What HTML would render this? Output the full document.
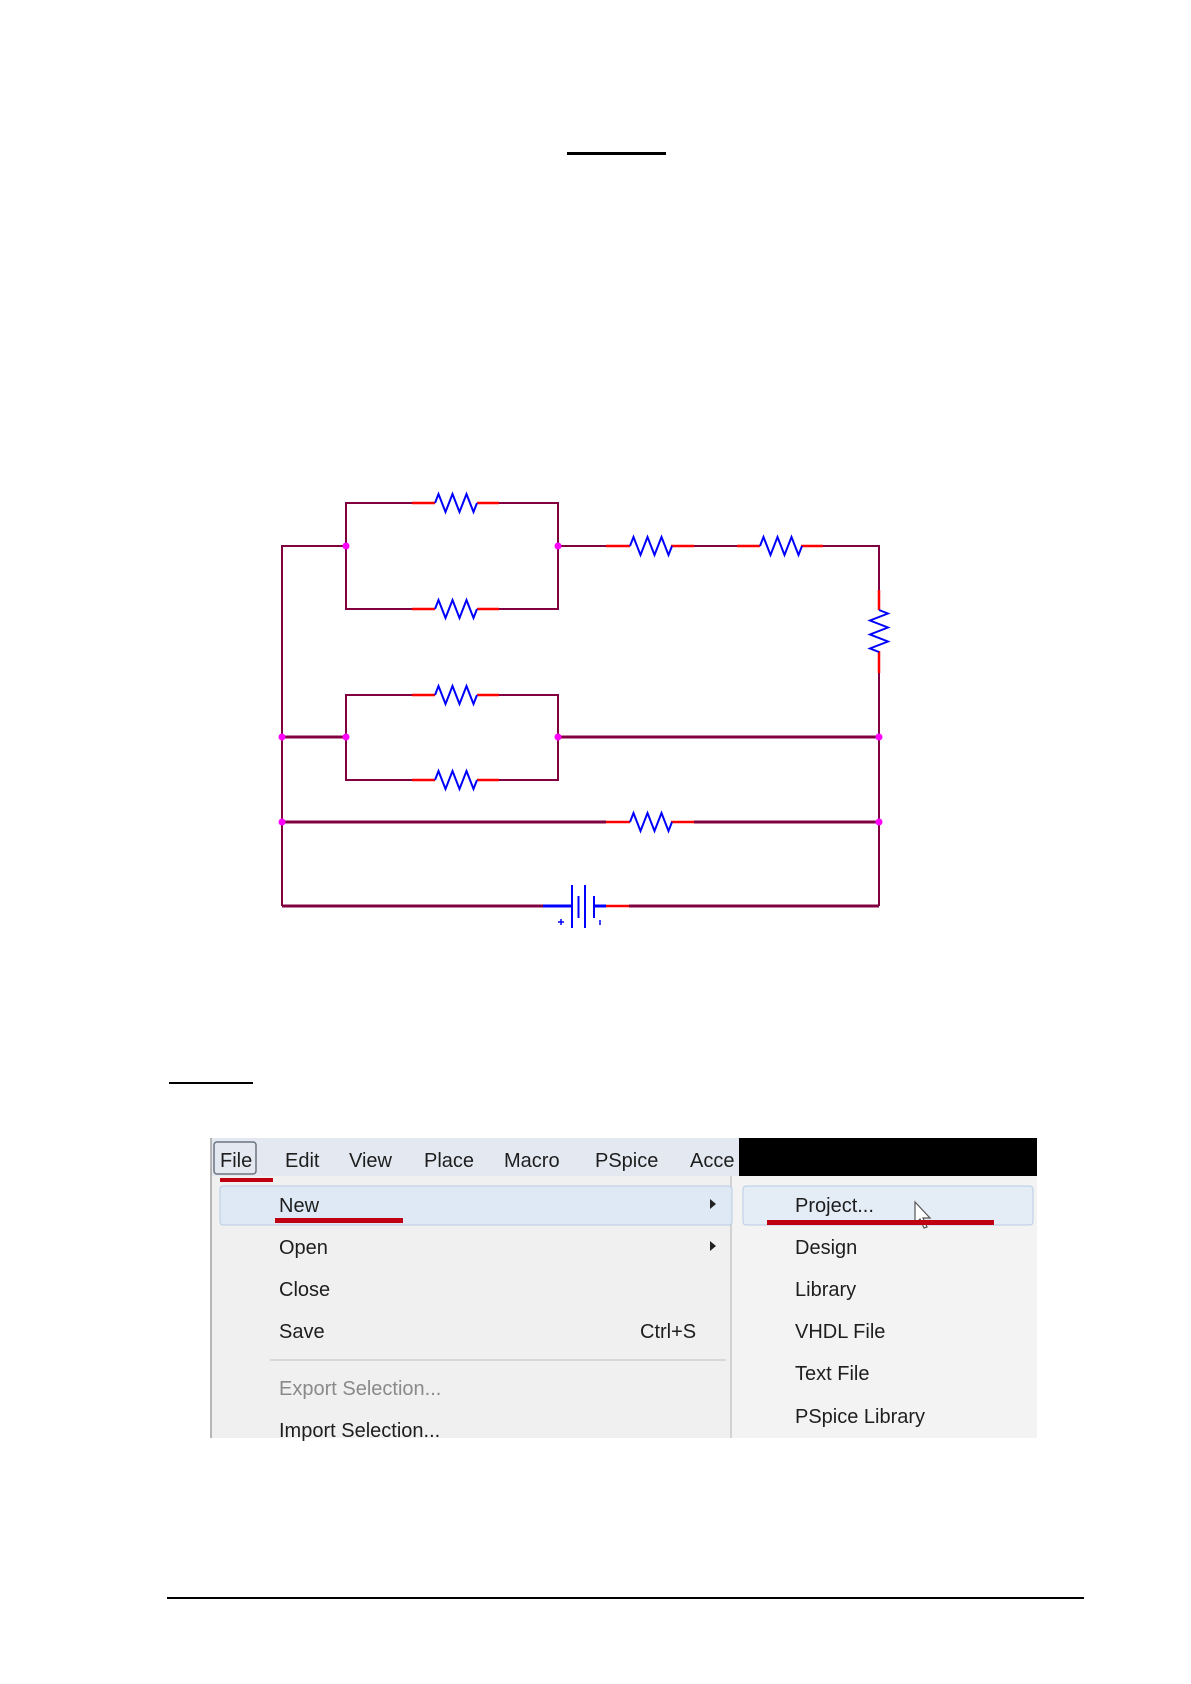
<!DOCTYPE html>
<html><head><meta charset="utf-8"><style>
html,body{margin:0;padding:0;background:#fff;}
body{width:1191px;height:1684px;overflow:hidden;position:relative;}
svg{position:absolute;left:0;top:0;}
.m{font-family:"Liberation Sans Narrow","Liberation Sans",sans-serif;font-size:20px;fill:#1e1e1e;}
</style></head><body>
<svg width="1191" height="1684" viewBox="0 0 1191 1684">
<!-- title underline -->
<rect x="567" y="152" width="99" height="3" fill="#000"/>
<!-- circuit wires -->
<g stroke="#800040" stroke-width="2" fill="none">
<polyline points="412,503 346,503 346,609 412,609"/>
<polyline points="499,503 558,503 558,609 499,609"/>
<polyline points="282,906 282,546 346,546"/>
<line x1="558" y1="546" x2="606" y2="546"/>
<line x1="694" y1="546" x2="737" y2="546"/>
<polyline points="823,546 879,546 879,590"/>
<polyline points="879,673 879,906"/>
<polyline points="412,695 346,695 346,780 412,780"/>
<polyline points="499,695 558,695 558,780 499,780"/>
</g>
<g stroke="#800040" stroke-width="3" fill="none">
<line x1="282" y1="737" x2="346" y2="737"/>
<line x1="558" y1="737" x2="879" y2="737"/>
<line x1="282" y1="822" x2="606" y2="822"/>
<line x1="694" y1="822" x2="879" y2="822"/>
<line x1="282" y1="906" x2="543" y2="906"/>
<line x1="629" y1="906" x2="879" y2="906"/>
</g>
<!-- red leads -->
<g stroke="#ff0000" stroke-width="2.5" fill="none">
<line x1="412" y1="503" x2="435" y2="503"/><line x1="477" y1="503" x2="499" y2="503"/>
<line x1="412" y1="609" x2="435" y2="609"/><line x1="477" y1="609" x2="499" y2="609"/>
<line x1="412" y1="695" x2="435" y2="695"/><line x1="477" y1="695" x2="499" y2="695"/>
<line x1="412" y1="780" x2="435" y2="780"/><line x1="477" y1="780" x2="499" y2="780"/>
<line x1="606" y1="546" x2="630" y2="546"/><line x1="671" y1="546" x2="694" y2="546"/>
<line x1="737" y1="546" x2="760" y2="546"/><line x1="801" y1="546" x2="823" y2="546"/>
<line x1="606" y1="822" x2="630" y2="822"/><line x1="671" y1="822" x2="694" y2="822"/>
<line x1="879" y1="590" x2="879" y2="610"/><line x1="879" y1="651" x2="879" y2="673"/>
<line x1="606" y1="906" x2="629" y2="906"/>
</g>
<!-- resistors -->
<g stroke="#0000ff" stroke-width="2" fill="none" stroke-linejoin="miter">
<path id="rz" d="M0,0 l3.5,-9 l7,18 l7,-18 l7,18 l7,-18 l7,18 l3.5,-9" transform="translate(435,503)"/>
<path d="M0,0 l3.5,-9 l7,18 l7,-18 l7,18 l7,-18 l7,18 l3.5,-9" transform="translate(435,609)"/>
<path d="M0,0 l3.5,-9 l7,18 l7,-18 l7,18 l7,-18 l7,18 l3.5,-9" transform="translate(435,695)"/>
<path d="M0,0 l3.5,-9 l7,18 l7,-18 l7,18 l7,-18 l7,18 l3.5,-9" transform="translate(435,780)"/>
<path d="M0,0 l3.5,-9 l7,18 l7,-18 l7,18 l7,-18 l7,18 l3.5,-9" transform="translate(630,546)"/>
<path d="M0,0 l3.5,-9 l7,18 l7,-18 l7,18 l7,-18 l7,18 l3.5,-9" transform="translate(760,546)"/>
<path d="M0,0 l3.5,-9 l7,18 l7,-18 l7,18 l7,-18 l7,18 l3.5,-9" transform="translate(630,822)"/>
<path d="M0,0 l3.5,-9 l7,18 l7,-18 l7,18 l7,-18 l7,18 l3.5,-9" transform="translate(879,610) rotate(90)"/>
</g>
<!-- battery -->
<g stroke="#0000ff" fill="none">
<line x1="543" y1="906" x2="572" y2="906" stroke-width="3"/>
<line x1="594" y1="906" x2="606" y2="906" stroke-width="3"/>
<line x1="572" y1="885" x2="572" y2="928" stroke-width="2"/>
<line x1="578.5" y1="896" x2="578.5" y2="918" stroke-width="2"/>
<line x1="585" y1="885" x2="585" y2="928" stroke-width="2"/>
<line x1="594" y1="896" x2="594" y2="918" stroke-width="2"/>
<line x1="558" y1="922" x2="564" y2="922" stroke-width="1.5"/>
<line x1="561" y1="919" x2="561" y2="925" stroke-width="1.5"/>
<line x1="600" y1="920" x2="600" y2="925" stroke-width="1.5"/>
</g>
<!-- junction dots -->
<g fill="#ff00ff">
<circle cx="346" cy="546" r="3.5"/><circle cx="558" cy="546" r="3.5"/>
<circle cx="282" cy="737" r="3.5"/><circle cx="346" cy="737" r="3.5"/>
<circle cx="558" cy="737" r="3.5"/><circle cx="879" cy="737" r="3.5"/>
<circle cx="282" cy="822" r="3.5"/><circle cx="879" cy="822" r="3.5"/>
</g>
<!-- section underline -->
<rect x="169" y="1082" width="84" height="2" fill="#000"/>
<!-- menu screenshot -->
<rect x="211" y="1138" width="826" height="300" fill="#f0f0f0"/>
<rect x="211" y="1138" width="528" height="38" fill="#e4e9f1"/>
<rect x="739" y="1138" width="298" height="38" fill="#000"/>
<rect x="731" y="1176" width="306" height="262" fill="#f3f3f3"/>
<line x1="731" y1="1176" x2="731" y2="1438" stroke="#c8c8c8" stroke-width="1.5"/>
<line x1="211" y1="1138" x2="211" y2="1438" stroke="#a0a0a0" stroke-width="1.5"/>
<rect x="220" y="1186" width="512" height="39" fill="#dfe8f5" stroke="#b8cce4" rx="3"/>
<rect x="743" y="1186" width="290" height="39" fill="#e4ecf6" stroke="#b8cce4" rx="3"/>
<rect x="214" y="1142" width="42" height="32" fill="none" stroke="#6a7480" stroke-width="1.5" rx="3"/>
<line x1="270" y1="1360" x2="726" y2="1360" stroke="#d8d8d8" stroke-width="2"/>
<g class="m">
<text x="220" y="1167">File</text><text x="285" y="1167">Edit</text><text x="349" y="1167">View</text>
<text x="424" y="1167">Place</text><text x="504" y="1167">Macro</text><text x="595" y="1167">PSpice</text>
<text x="690" y="1167">Acce</text>
<text x="279" y="1212">New</text><text x="279" y="1254">Open</text><text x="279" y="1296">Close</text>
<text x="279" y="1338">Save</text><text x="640" y="1338">Ctrl+S</text>
<text x="279" y="1395" fill="#8a8a8a">Export Selection...</text>
<text x="279" y="1437">Import Selection...</text>
<text x="795" y="1212">Project...</text><text x="795" y="1254">Design</text><text x="795" y="1296">Library</text>
<text x="795" y="1338">VHDL File</text><text x="795" y="1380">Text File</text><text x="795" y="1423">PSpice Library</text>
</g>
<polygon points="710,1199 716,1204 710,1209" fill="#222"/>
<polygon points="710,1241 716,1246 710,1251" fill="#222"/>
<path d="M915,1202 l0,22 l5,-5 l4,9 l3,-1 l-4,-9 l7,0 z" fill="#fff" stroke="#555" stroke-width="1.2"/>
<rect x="220" y="1178" width="53" height="4" fill="#c00010"/>
<rect x="275" y="1218" width="128" height="5" fill="#c00010"/>
<rect x="767" y="1220" width="227" height="5" fill="#c00010"/>
<!-- footer line -->
<rect x="167" y="1597" width="917" height="2" fill="#000"/>
</svg>
</body></html>
